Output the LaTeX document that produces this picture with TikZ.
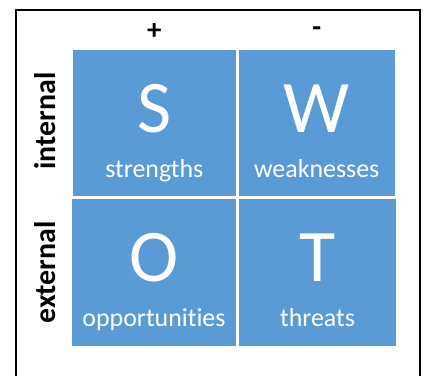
\documentclass[tikz,border=0pt]{standalone}
\usepackage{fontspec}
\setmainfont{Carlito}[Ligatures=NoCommon]
\usetikzlibrary{calc}
\definecolor{swotblue}{HTML}{5B9BD5}
\tikzset{
  x=1bp, y=-1bp,
  cell/.style={fill=swotblue, draw=none, anchor=north west, inner sep=0pt, outer sep=0pt},
  bigletter/.style={text=white, anchor=base, inner sep=0pt, font=\fontsize{74.5}{80}\selectfont},
  celllabel/.style={text=white, anchor=base, inner sep=0pt, font=\fontsize{26}{30}\selectfont},
  axislabel/.style={anchor=base, inner sep=0pt, font=\bfseries\fontsize{30}{34}\selectfont},
  signlabel/.style={anchor=center, inner sep=0pt, font=\bfseries\fontsize{29}{32}\selectfont},
}
\begin{document}
\begin{tikzpicture}
\useasboundingbox (0,0) rectangle (425,376);
\clip (0,0) rectangle (425,376);

% open frame, running off the bottom edge
\draw[line width=2bp] (16,390) -- (16,10) -- (420,10) -- (420,390);

% the four quadrants
\node[cell, minimum width=163.5bp, minimum height=146bp] (s) at (72.5,50) {};
\node[cell, minimum width=155.5bp, minimum height=146bp] (w) at (239,50) {};
\node[cell, minimum width=164bp, minimum height=147bp] (o) at (72,199) {};
\node[cell, minimum width=157bp, minimum height=147bp] (t) at (239,199) {};

% letters and captions
\foreach \c/\L/\word in {s/S/strengths, w/W/weaknesses, o/O/opportunities, t/T/threats}{
  \node[bigletter] (\c-letter) at ($(\c.north)+(0,82.5)$) {\L};
  \node[celllabel] (\c-label) at ($(\c.north)+(0,127.3)$) {\word};
}

% column signs
\node[signlabel] (plus) at ($(s.north)+(0,-19)$) {+};
\node[signlabel] (minus) at ($(w.north)+(0,-18.5)$) {-};

% row labels
\node[axislabel, rotate=90] (internal) at ($(s.west)+(-17.5,-2)$) {internal};
\node[axislabel, rotate=90] (external) at ($(o.west)+(-17,0)$) {external};
\end{tikzpicture}
\end{document}
